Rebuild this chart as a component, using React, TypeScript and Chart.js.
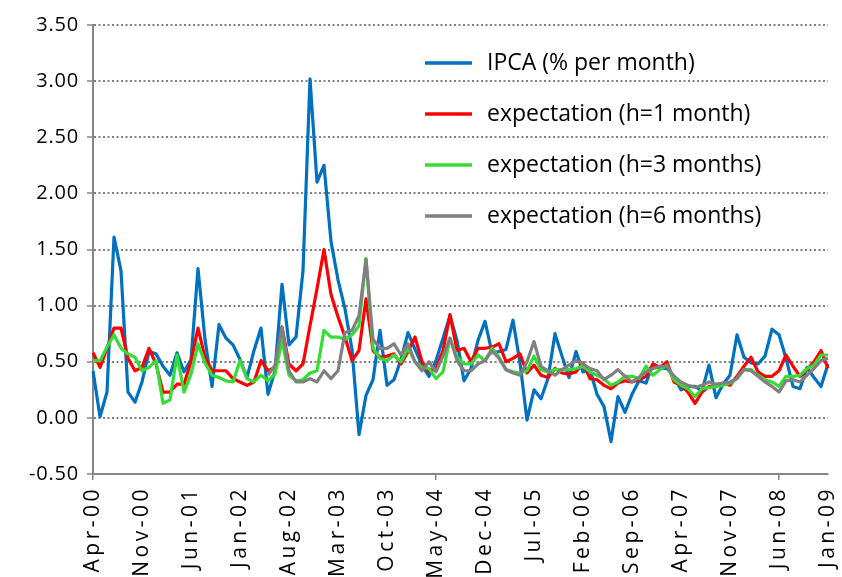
import React, { useEffect, useRef } from "react";
import { Chart, registerables } from "chart.js";

Chart.register(...registerables);

const MONTHS = ["Jan", "Feb", "Mar", "Apr", "May", "Jun", "Jul", "Aug", "Sep", "Oct", "Nov", "Dec"];
// Monthly categories Apr-00 .. Jan-09
const categories: string[] = [];
for (let k = 0; k < 106; k++) {
  const m = (3 + k) % 12;
  const y = 2000 + Math.floor((3 + k) / 12);
  categories.push(`${MONTHS[m]}-${String(y % 100).padStart(2, "0")}`);
}

const seriesNames = [
  "IPCA (% per month)",
  "expectation (h=1 month)",
  "expectation (h=3 months)",
  "expectation (h=6 months)",
];

const ipca = [
  0.42, 0.01, 0.23, 1.61, 1.31, 0.23, 0.14, 0.32, 0.59,
  0.57, 0.46, 0.38, 0.58, 0.41, 0.52, 1.33, 0.70, 0.28, 0.83, 0.71, 0.65,
  0.52, 0.36, 0.60, 0.80, 0.21, 0.42, 1.19, 0.65, 0.72, 1.31, 3.02, 2.10,
  2.25, 1.57, 1.23, 0.97, 0.61, -0.15, 0.20, 0.34, 0.78, 0.29, 0.34, 0.52,
  0.76, 0.61, 0.47, 0.37, 0.51, 0.71, 0.91, 0.69, 0.33, 0.44, 0.69, 0.86,
  0.58, 0.59, 0.61, 0.87, 0.49, -0.02, 0.25, 0.17, 0.35, 0.75, 0.55, 0.36,
  0.59, 0.41, 0.43, 0.21, 0.10, -0.21, 0.19, 0.05, 0.21, 0.33, 0.31, 0.48,
  0.44, 0.44, 0.37, 0.25, 0.28, 0.28, 0.24, 0.47, 0.18, 0.30, 0.38, 0.74,
  0.54, 0.49, 0.48, 0.55, 0.79, 0.74, 0.53, 0.28, 0.26, 0.45, 0.36, 0.28,
  0.48,
];

const expH1 = [
  0.58, 0.45, 0.62, 0.80, 0.80, 0.53, 0.42, 0.45, 0.62,
  0.48, 0.23, 0.23, 0.30, 0.30, 0.50, 0.80, 0.54, 0.42, 0.42, 0.42, 0.35,
  0.32, 0.29, 0.32, 0.51, 0.42, 0.45, 0.81, 0.48, 0.42, 0.48, 0.82, 1.15,
  1.50, 1.10, 0.90, 0.72, 0.51, 0.60, 1.06, 0.60, 0.54, 0.55, 0.57, 0.48,
  0.59, 0.72, 0.50, 0.41, 0.44, 0.60, 0.92, 0.60, 0.62, 0.50, 0.62, 0.62,
  0.63, 0.66, 0.50, 0.53, 0.57, 0.40, 0.47, 0.38, 0.36, 0.44, 0.40, 0.39,
  0.41, 0.49, 0.35, 0.34, 0.29, 0.26, 0.31, 0.33, 0.32, 0.34, 0.37, 0.48,
  0.45, 0.50, 0.32, 0.29, 0.23, 0.13, 0.23, 0.28, 0.28, 0.31, 0.29, 0.37,
  0.46, 0.54, 0.41, 0.37, 0.37, 0.42, 0.56, 0.46, 0.37, 0.43, 0.50, 0.60,
  0.44,
];

const expH3 = [
  0.51, 0.51, 0.63, 0.74, 0.62, 0.57, 0.54, 0.42, 0.45,
  0.51, 0.13, 0.16, 0.56, 0.23, 0.39, 0.66, 0.49, 0.38, 0.36, 0.33, 0.32,
  0.51, 0.35, 0.32, 0.38, 0.33, 0.39, 0.69, 0.38, 0.33, 0.34, 0.40, 0.42,
  0.78, 0.72, 0.72, 0.70, 0.74, 0.82, 1.42, 0.62, 0.53, 0.51, 0.56, 0.50,
  0.62, 0.50, 0.45, 0.44, 0.35, 0.41, 0.71, 0.54, 0.48, 0.48, 0.56, 0.51,
  0.62, 0.54, 0.43, 0.41, 0.40, 0.42, 0.55, 0.43, 0.41, 0.43, 0.43, 0.43,
  0.44, 0.46, 0.41, 0.38, 0.35, 0.29, 0.32, 0.37, 0.37, 0.35, 0.46, 0.38,
  0.43, 0.47, 0.34, 0.29, 0.26, 0.19, 0.26, 0.27, 0.28, 0.29, 0.31, 0.35,
  0.43, 0.43, 0.38, 0.34, 0.32, 0.28, 0.37, 0.37, 0.38, 0.44, 0.47, 0.56,
  0.56,
];

const expH6 = [
  null, null, null, null, null, null, null, null, null,
  null, null, null, null, null, null, null, null, null, null, null, null,
  null, null, null, null, 0.38, 0.47, 0.81, 0.42, 0.32, 0.32, 0.35, 0.32,
  0.42, 0.35, 0.42, 0.76, 0.78, 0.91, 1.41, 0.70, 0.62, 0.62, 0.66, 0.56,
  0.66, 0.50, 0.42, 0.50, 0.41, 0.55, 0.71, 0.51, 0.42, 0.42, 0.48, 0.51,
  0.60, 0.53, 0.43, 0.40, 0.38, 0.50, 0.68, 0.46, 0.42, 0.38, 0.43, 0.47,
  0.51, 0.48, 0.44, 0.42, 0.34, 0.38, 0.43, 0.37, 0.32, 0.36, 0.41, 0.44,
  0.46, 0.46, 0.37, 0.32, 0.29, 0.27, 0.29, 0.32, 0.30, 0.31, 0.32, 0.35,
  0.43, 0.42, 0.37, 0.32, 0.28, 0.23, 0.33, 0.34, 0.32, 0.38, 0.44, 0.51,
  0.53,
];

const seriesColors = ["#0070C0", "#FF0000", "#33DD33", "#808080"];
const FONT = '"Open Sans", "DejaVu Sans", sans-serif';

const insideLegend = {
  id: "insideLegend",
  afterDatasetsDraw(chart: any) {
    const ctx = chart.ctx;
    ctx.save();
    chart.data.datasets.forEach((ds: any, k: number) => {
      const y = 63 + k * 51;
      ctx.strokeStyle = ds.borderColor;
      ctx.lineWidth = 3.5;
      ctx.lineCap = "butt";
      ctx.beginPath();
      ctx.moveTo(425, y);
      ctx.lineTo(472, y);
      ctx.stroke();
      ctx.fillStyle = "#000";
      ctx.font = `23px ${FONT}`;
      ctx.textBaseline = "middle";
      ctx.textAlign = "left";
      ctx.fillText(ds.label, 487, y);
    });
    ctx.restore();
  },
};

function spacedLabels(spacing: string) {
  return (s: any) => {
    if (s.__spaced) return;
    s.__spaced = true;
    const orig = s.drawLabels.bind(s);
    s.drawLabels = (area: any) => {
      const ctx = s.ctx;
      ctx.save();
      try {
        (ctx as any).letterSpacing = spacing;
      } catch (e) {
        /* ignore */
      }
      orig(area);
      ctx.restore();
    };
  };
}

export default function App() {
  const ref = useRef<HTMLCanvasElement | null>(null);

  useEffect(() => {
    if (!ref.current) return;
    const all = [ipca, expH1, expH3, expH6];
    const chart = new Chart(ref.current, {
      type: "line",
      data: {
        labels: categories,
        datasets: all.map((d, k) => ({
          label: seriesNames[k],
          data: d,
          borderColor: seriesColors[k],
          backgroundColor: seriesColors[k],
          borderWidth: 3.2,
          pointRadius: 0,
          pointHoverRadius: 0,
          tension: 0,
          fill: false,
          borderJoinStyle: "round" as const,
          order: 3 - k,
        })),
      },
      options: {
        animation: false,
        responsive: true,
        maintainAspectRatio: false,
        devicePixelRatio: 1,
        layout: { padding: { top: 25, right: 14, left: 0, bottom: 0 } },
        plugins: {
          legend: { display: false },
          tooltip: { enabled: false },
        },
        scales: {
          x: {
            type: "category",
            offset: false,
            ticks: {
              autoSkip: false,
              maxRotation: 90,
              minRotation: 90,
              color: "#000",
              padding: 6,
              font: { family: FONT, size: 21 },
              callback: function (this: any, val: any, idx: number) {
                return idx % 7 === 0 ? this.getLabelForValue(val) : null;
              },
            },
            grid: {
              drawOnChartArea: false,
              drawTicks: true,
              tickLength: 6,
              lineWidth: 1.5,
              color: (c: any) => (c.index % 7 === 0 ? "#868686" : "rgba(0,0,0,0)"),
              tickColor: (c: any) => (c.index % 7 === 0 ? "#868686" : "rgba(0,0,0,0)"),
            },
            border: { display: true, color: "#868686", width: 2 },
            afterFit: (s: any) => {
              s.height = 103;
              s.paddingLeft = 0;
              s.paddingRight = 0;
            },
            afterUpdate: spacedLabels("3.5px"),
          },
          y: {
            min: -0.5,
            max: 3.5,
            ticks: {
              stepSize: 0.5,
              color: "#000",
              padding: 8,
              font: { family: FONT, size: 20 },
              callback: (v: any) => Number(v).toFixed(2),
            },
            grid: {
              color: "#808080",
              lineWidth: 2,
              drawTicks: true,
              tickLength: 6,
              tickColor: "#868686",
              tickWidth: 1.5,
              tickBorderDash: [],
            },
            border: { display: true, color: "#868686", width: 2, dash: [2, 2.5] },
            afterFit: (s: any) => {
              s.width = 93;
            },
            afterUpdate: spacedLabels("0.8px"),
          },
        },
      },
      plugins: [insideLegend],
    });
    return () => chart.destroy();
  }, []);

  return (
    <div style={{ position: "absolute", left: 0, top: 0, width: 842, height: 577, background: "#fff" }}>
      <canvas ref={ref} />
    </div>
  );
}
